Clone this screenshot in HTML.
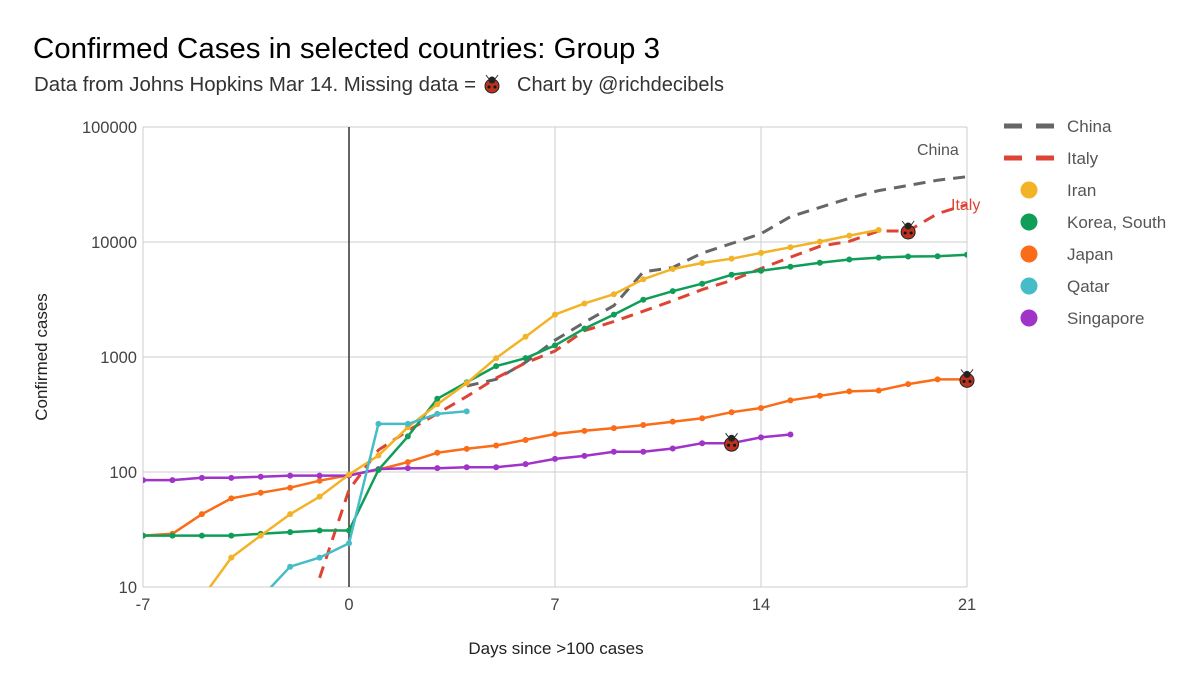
<!DOCTYPE html>
<html><head><meta charset="utf-8">
<style>
body{margin:0;background:#fff;font-family:"Liberation Sans",Roboto,sans-serif;}
#wrap{position:relative;width:1200px;height:691px;overflow:hidden;}
</style></head>
<body>
<div id="wrap">
<svg id="chart" width="1200" height="691" xmlns="http://www.w3.org/2000/svg">
<text x="33" y="58" font-size="29" fill="#000" textLength="627" lengthAdjust="spacingAndGlyphs">Confirmed Cases in selected countries: Group 3</text>
<text x="34" y="91" font-size="20" fill="#333" textLength="442" lengthAdjust="spacingAndGlyphs">Data from Johns Hopkins Mar 14. Missing data =</text>
<text x="517" y="91" font-size="20" fill="#333" textLength="207" lengthAdjust="spacingAndGlyphs">Chart by @richdecibels</text>
<text x="47" y="357" font-size="17" fill="#222" text-anchor="middle" transform="rotate(-90 47 357)">Confirmed cases</text>
<text x="556" y="654" font-size="17" fill="#222" text-anchor="middle">Days since &gt;100 cases</text>
<g id="grid"></g>
<g id="series"></g>
<g id="legend"></g>
</svg>
</div>
<script>
const xTicks=[-7,0,7,14,21];
const yTicks=[10,100,1000,10000,100000];
const days=[-7,-6,-5,-4,-3,-2,-1,0,1,2,3,4,5,6,7,8,9,10,11,12,13,14,15,16,17,18,19,20,21];
const china=[null,null,null,null,null,null,null,null,null,null,null,560,640,900,1400,2000,2800,5500,6000,8000,9700,11800,16600,20000,24000,28000,31000,34500,37000];
const italy=[null,null,null,null,null,null,12,70,155,229,322,453,655,888,1128,1694,2036,2502,3089,3858,4636,5883,7375,9172,10149,12462,12462,17660,21157];
const iran=[null,null,8,18,28,43,61,95,139,245,388,593,978,1501,2336,2922,3513,4747,5823,6566,7161,8042,9000,10075,11364,12729,null,null,null];
const korea=[28,28,28,28,29,30,31,31,104,204,433,602,833,977,1261,1766,2337,3150,3736,4335,5186,5621,6088,6593,7041,7313,7478,7513,7755];
const japan=[28,29,43,59,66,73,84,94,105,122,147,159,170,190,214,228,241,256,274,293,331,360,420,460,502,511,581,639,639];
const qatar=[null,null,null,null,8,15,18,24,262,262,320,337,null,null,null,null,null,null,null,null,null,null,null,null,null,null,null,null,null];
const singapore=[85,85,89,89,91,93,93,93,106,108,108,110,110,117,130,138,150,150,160,178,178,200,212,null,null,null,null,null,null];
const seriesNames=["China","Italy","Iran","Korea, South","Japan","Qatar","Singapore"];
const missing=[["Italy",19,12462],["Singapore",13,178],["Japan",21,639]];

const X0=143,X1=967,Y0=587,Y1=127;
const xs=d=>X0+(d+7)/28*(X1-X0);
const ys=v=>Y0-(Math.log10(v)-1)/4*(Y0-Y1);
const NS="http://www.w3.org/2000/svg";
function mk(t,a,p){const e=document.createElementNS(NS,t);for(const k in a)e.setAttribute(k,a[k]);p.appendChild(e);return e;}
const svg=document.getElementById('chart');
const defs=mk('defs',{},svg);
const cp=mk('clipPath',{id:'pc'},defs);mk('rect',{x:X0,y:Y1,width:X1-X0,height:Y0-Y1},cp);
const grid=document.getElementById('grid');
yTicks.forEach(v=>{
  const l=mk('line',{x1:X0,x2:X1,y1:ys(v),y2:ys(v),stroke:'#ccc','stroke-width':1},grid);
  
  
  const t=mk('text',{x:X0-6,y:ys(v)+6,'text-anchor':'end','font-size':16.5,fill:'#444'},grid);t.textContent=v;
  
  
});
xTicks.forEach(d=>{
  const l=mk('line',{x1:xs(d),x2:xs(d),y1:Y1,y2:Y0,stroke:d===0?'#333':'#ccc','stroke-width':d===0?1.5:1},grid);
  
  
  const t=mk('text',{x:xs(d),y:Y0+23,'text-anchor':'middle','font-size':16.5,fill:'#444'},grid);t.textContent=d;
  
  
});
const sg=document.getElementById('series');sg.setAttribute('clip-path','url(#pc)');
const cfg=[[china,'#666',true],[italy,'#dd4433',true],[iran,'#f2b327',false],[korea,'#0f9d58',false],[japan,'#fa6c17',false],[qatar,'#46bdc6',false],[singapore,'#a033c8',false]];
const order=[0,1,4,6,3,2,5];
order.forEach(i=>{
  const [data,col,dash]=cfg[i];
  const g=mk('g',{},sg);
  
  
  let segs=[],cur=[];
  data.forEach((v,k)=>{if(v==null){if(cur.length)segs.push(cur);cur=[];}else cur.push([xs(days[k]),ys(v)]);});
  if(cur.length)segs.push(cur);
  segs.forEach(s=>{
    const p=mk('path',{d:'M'+s.map(q=>q[0].toFixed(1)+','+q[1].toFixed(1)).join('L'),fill:'none',stroke:col,'stroke-width':dash?3:2.5,'stroke-dasharray':dash?'12,8':'none','stroke-linejoin':'round'},g);
    
    
    if(!dash)s.forEach(q=>{const c=mk('circle',{cx:q[0],cy:q[1],r:3,fill:col},g);
      
      });
  });
});
function bug(x,y,p){
  const g=mk('g',{},p);
  
  
  mk('line',{x1:x-3,y1:y-6,x2:x-6,y2:y-10,stroke:'#333','stroke-width':1},g);
  mk('line',{x1:x+3,y1:y-6,x2:x+6,y2:y-10,stroke:'#333','stroke-width':1},g);
  mk('ellipse',{cx:x,cy:y+1,rx:7,ry:7,fill:'#b8321e',stroke:'#222','stroke-width':1},g);
  mk('circle',{cx:x,cy:y-5,r:3.5,fill:'#222'},g);
  mk('circle',{cx:x-3,cy:y+2,r:1.5,fill:'#111'},g);mk('circle',{cx:x+3,cy:y+2,r:1.5,fill:'#111'},g);
}
bug(492,85,svg);
const bg=mk('g',{},svg);
missing.forEach(m=>bug(xs(m[1]),ys(m[2]),bg));
const ca=mk('text',{x:917,y:155,'font-size':16,fill:'#555'},svg);ca.textContent='China';


const ia=mk('text',{x:951,y:210,'font-size':16,fill:'#dd4433'},svg);ia.textContent='Italy';


const lg=document.getElementById('legend');
seriesNames.forEach((n,i)=>{
  const y=126+i*32;const [,col,dash]=cfg[i];
  const g=mk('g',{},lg);
  
  
  if(dash){mk('line',{x1:1004,x2:1056,y1:y,y2:y,stroke:col,'stroke-width':5,'stroke-dasharray':'18,14'},g);}
  else mk('circle',{cx:1029,cy:y,r:8.5,fill:col},g);
  const t=mk('text',{x:1067,y:y+6,'font-size':17,fill:'#555'},g);t.textContent=n;
});
</script>
</body></html>
